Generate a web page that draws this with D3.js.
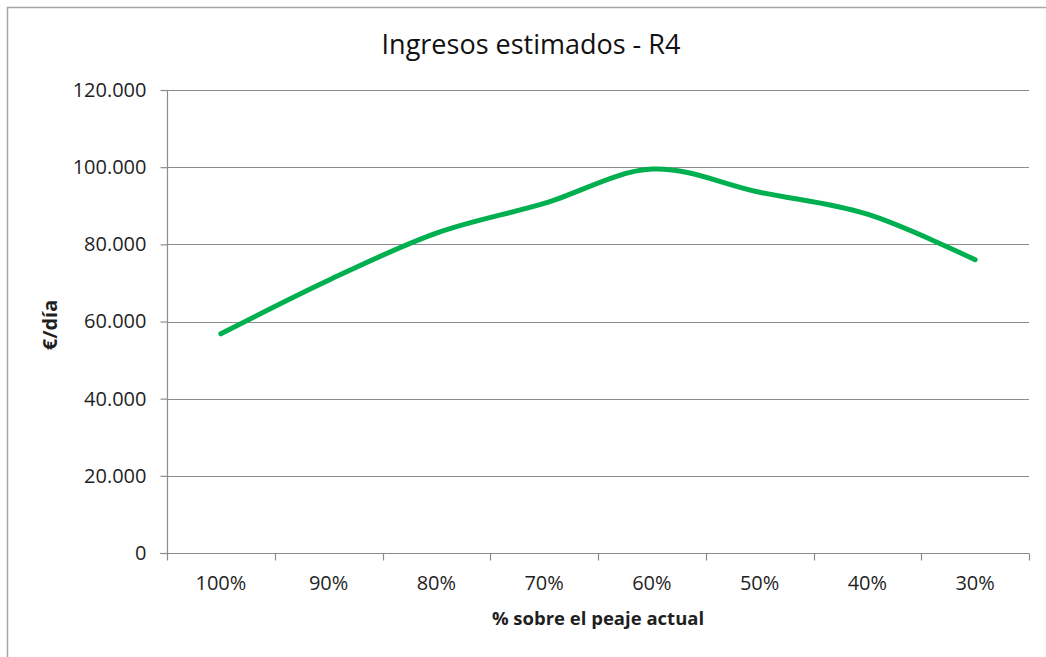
<!DOCTYPE html>
<html>
<head>
<meta charset="utf-8">
<script src="https://cdn.jsdelivr.net/npm/d3@7"></script>
<style>
  html, body { margin: 0; padding: 0; background: #fff; }
  svg { display: block; font-family: "Open Sans", sans-serif; }
</style>
</head>
<body>
<svg id="chart" width="1046" height="657"></svg>
<script>
const categories = ["100%", "90%", "80%", "70%", "60%", "50%", "40%", "30%"];
const ingresos = [56800, 70700, 82900, 90600, 99500, 93500, 87800, 76000];
const yTicks = [0, 20000, 40000, 60000, 80000, 100000, 120000];
const yTickLabels = ["0", "20.000", "40.000", "60.000", "80.000", "100.000", "120.000"];

const svg = d3.select("#chart");
const W = 1046, H = 657;
const m = { left: 167, right: 1029, top: 90, bottom: 553 };

// outer border (top & left visible)
svg.append("rect").attr("x", 7.5).attr("y", 7.5).attr("width", W + 10).attr("height", H + 10)
  .attr("fill", "none").attr("stroke", "#a6a6a6").attr("stroke-width", 1.5);

const x = d3.scaleBand().domain(categories).range([m.left, m.right]).padding(0);
const y = d3.scaleLinear().domain([0, 120000]).range([m.bottom, m.top]);

// gridlines
svg.append("g").selectAll("line").data(yTicks.filter(d => d > 0)).join("line")
  .attr("x1", m.left).attr("x2", m.right)
  .attr("y1", d => Math.round(y(d)) + 0.5).attr("y2", d => Math.round(y(d)) + 0.5)
  .attr("stroke", "#8c8c8c").attr("stroke-width", 1.2);

// y axis
const yAxis = d3.axisLeft(y).tickValues(yTicks).tickSize(7).tickPadding(14)
  .tickFormat((d, i) => yTickLabels[i]);
const gy = svg.append("g").attr("transform", `translate(${m.left + 0.5},0)`).call(yAxis);
gy.select(".domain").attr("stroke", "#8c8c8c").attr("stroke-width", 1.2)
  .attr("d", `M0,${m.top}V${m.bottom}`);
gy.selectAll(".tick line").attr("stroke", "#8c8c8c").attr("stroke-width", 1.2);
gy.selectAll(".tick text").attr("fill", "#1f1f1f").style("font-size", "20px")
  .style("font-weight", "500").style("font-family", "'Open Sans', sans-serif");

// x axis
const xAxis = d3.axisBottom(x).tickSize(0).tickPadding(22);
const gx = svg.append("g").attr("transform", `translate(0,${m.bottom + 0.5})`).call(xAxis);
gx.select(".domain").attr("stroke", "#8c8c8c").attr("stroke-width", 1.2)
  .attr("d", `M${m.left - 7},0H${m.right}`);
gx.selectAll(".tick text").attr("fill", "#1f1f1f").style("font-size", "20px")
  .style("font-weight", "500").style("font-family", "'Open Sans', sans-serif");
// category boundary ticks
const bounds = categories.map(c => x(c)).concat([x(categories[categories.length - 1]) + x.bandwidth()]);
gx.append("g").selectAll("line").data(bounds).join("line")
  .attr("x1", d => Math.round(d) + 0.5).attr("x2", d => Math.round(d) + 0.5)
  .attr("y1", 0).attr("y2", 7).attr("stroke", "#8c8c8c").attr("stroke-width", 1.2);

// line
const line = d3.line()
  .x((d, i) => x(categories[i]) + x.bandwidth() / 2)
  .y(d => y(d))
  .curve(d3.curveCardinal.tension(0));
svg.append("path").datum(ingresos).attr("d", line)
  .attr("fill", "none").attr("stroke", "#00B050").attr("stroke-width", 5)
  .attr("stroke-linecap", "round").attr("stroke-linejoin", "round");

// title
svg.append("text").attr("x", 531).attr("y", 54).attr("text-anchor", "middle")
  .attr("fill", "#111").style("font-size", "27px").style("font-weight", "500")
  .text("Ingresos estimados - R4");

// axis titles
svg.append("text").attr("x", 598).attr("y", 625).attr("text-anchor", "middle")
  .attr("fill", "#1f1f1f").style("font-size", "18.5px").style("font-weight", "bold")
  .text("% sobre el peaje actual");
svg.append("text").attr("transform", "translate(57,325) rotate(-90)").attr("text-anchor", "middle")
  .attr("fill", "#1f1f1f").style("font-size", "20px").style("font-weight", "bold")
  .text("€/día");
</script>
</body>
</html>
